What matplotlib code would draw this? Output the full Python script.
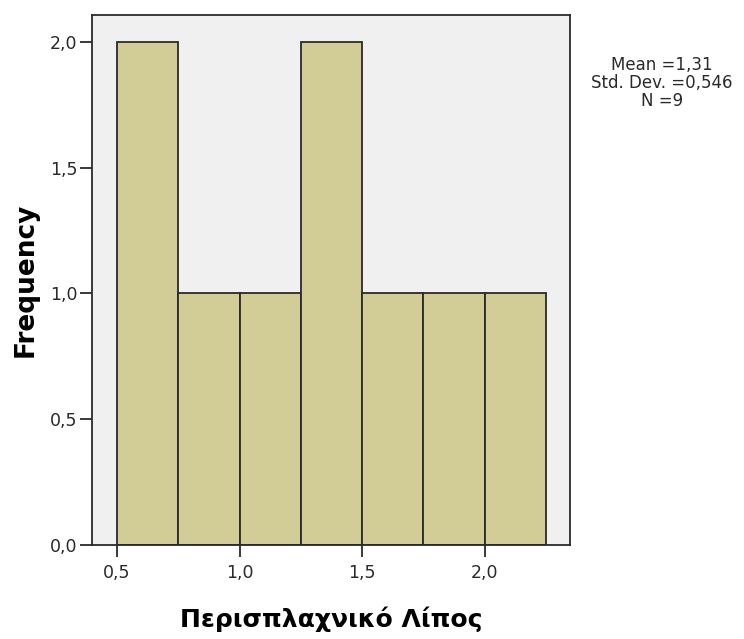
import matplotlib
matplotlib.use("Agg")
import matplotlib.pyplot as plt
from matplotlib.ticker import FuncFormatter

# Histogram of visceral fat: bin edges and counts
bin_edges = [0.5, 0.75, 1.0, 1.25, 1.5, 1.75, 2.0, 2.25]
counts = [2, 1, 1, 2, 1, 1, 1]
x_ticks = [0.5, 1.0, 1.5, 2.0]
y_ticks = [0.0, 0.5, 1.0, 1.5, 2.0]
stats_lines = ["Mean =1,31", "Std. Dev. =0,546", "N =9"]

plt.rcParams["font.family"] = ["DejaVu Sans"]

fig = plt.figure(figsize=(7.44, 6.39), dpi=100)
ax = fig.add_axes([0.1237, 0.1471, 0.6425, 0.8294])
ax.set_facecolor("#F0F0F0")

lefts = bin_edges[:-1]
widths = [b - a for a, b in zip(bin_edges[:-1], bin_edges[1:])]
ax.bar(lefts, counts, width=widths, align="edge", color="#D2CC96",
       edgecolor="#2A2A2A", linewidth=1.3, zorder=2)

ax.set_xlim(0.398, 2.349)
ax.set_ylim(0.0, 2.107)
ax.set_xticks(x_ticks)
ax.set_yticks(y_ticks)
comma = FuncFormatter(lambda v, p: f"{v:.1f}".replace(".", ","))
ax.xaxis.set_major_formatter(comma)
ax.yaxis.set_major_formatter(comma)
ax.tick_params(axis="both", direction="out", length=8.5, width=1.3,
               labelsize=12.5, colors="#2A2A2A")
ax.tick_params(axis="y", pad=2)
ax.tick_params(axis="x", pad=5)
for s in ax.spines.values():
    s.set_linewidth(1.3)
    s.set_color("#2A2A2A")

ax.set_ylabel("Frequency", fontsize=19, fontweight="bold", labelpad=8)
ax.set_xlabel("Περισπλαχνικό Λίπος", fontsize=18, fontweight="bold", labelpad=18)

fig.text(662 / 744, 1 - 83 / 639, "\n".join(stats_lines), ha="center", va="center",
         fontsize=12, color="#2A2A2A", linespacing=0.97)

fig.savefig("out.png", dpi=100, facecolor="white")
